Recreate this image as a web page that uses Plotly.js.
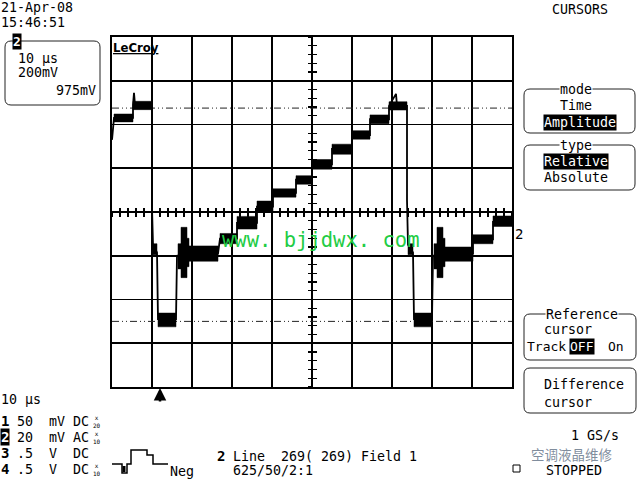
<!DOCTYPE html>
<html><head><meta charset="utf-8">
<script src="https://cdn.plot.ly/plotly-3.0.1.min.js"></script>
<style>html,body{margin:0;padding:0;background:#fff}#chart{width:640px;height:480px}</style>
</head><body><div id="chart"></div>
<script>
// ---------- data (time in µs, 10 µs/div; level in mV, 200 mV/div) ----------
const timeRangeUs = [0, 100];
const levelRangeMv = [-800, 800];
const cursorLevelsMv = [475, -500];

// centre path of the channel-2 trace (edges and plateau centres)
const traceTimeUs = [0, 0.5, 5.25, 5.25, 5.5, 5.75, 10, 10, 10.25, 11.25, 11.5, 16, 16.25, 19.25, 26.5, 27, 31.25, 31.25, 36.25, 36.25, 40.25, 40.25, 46, 46, 50, 50, 55, 55, 60, 60, 64.5, 64.5, 69.25, 69.25, 71, 71.25, 73.75, 73.75, 74, 75.25, 75.5, 80, 80.25, 83.25, 90.25, 90.25, 95.25, 95.25, 100];
const traceLevelMv = [330, 430, 430, 490, 545, 490, 490, 20, -150, -185, -490, -490, -200, -190, -190, -122, -122, -50, -50, 25, 25, 88, 88, 148, 148, 218, 218, 288, 288, 352, 352, 424, 424, 485, 540, 485, 485, 55, -150, -185, -490, -490, -200, -190, -190, -125, -125, -45, -30];

// noise envelope of each plateau / burst
const bandStartUs = [0.5, 5.25, 10.25, 11.5, 16.5, 17.25, 18.75, 19.25, 27, 31.25, 36.25, 40.25, 46, 50, 55, 60, 64.5, 69.25, 74, 75.5, 80.5, 81.25, 82.75, 83.25, 90.25, 95.25];
const bandEndUs   = [5.25, 10, 11.25, 16, 17.25, 18.75, 19.25, 26.5, 31.25, 36.25, 40.25, 46, 50, 55, 60, 64.5, 69.25, 73.75, 75.25, 80, 81.25, 82.75, 83.25, 90.25, 95.25, 100];
const bandLowMv   = [412, 468, -195, -525, -260, -300, -250, -225, -145, -78, 0, 68, 127, 196, 264, 333, 404, 466, -195, -525, -260, -300, -250, -225, -145, -66];
const bandHighMv  = [448, 506, -145, -462, -145, -70, -120, -155, -98, -20, 50, 106, 166, 240, 310, 372, 444, 504, -145, -462, -145, -70, -120, -160, -104, -18];

// ---------- build ----------
const bx = [], by = [];
for (let i = 0; i < bandStartUs.length; i++) {
  bx.push(bandStartUs[i], bandEndUs[i], bandEndUs[i], bandStartUs[i], bandStartUs[i], null);
  by.push(bandLowMv[i], bandLowMv[i], bandHighMv[i], bandHighMv[i], bandLowMv[i], null);
}

const traces = [];
cursorLevelsMv.forEach(lv => traces.push({
  type: 'scatter', mode: 'lines', x: timeRangeUs, y: [lv, lv],
  line: {color: '#222', width: 1, dash: '7px,3px,1px,3px,1px,3px'},
  hoverinfo: 'skip', showlegend: false
}));
traces.push({type: 'scatter', mode: 'lines', x: bx, y: by, fill: 'toself', fillcolor: '#000',
  line: {color: '#000', width: 0.5}, hoverinfo: 'skip', showlegend: false});
traces.push({type: 'scatter', mode: 'lines', x: traceTimeUs, y: traceLevelMv,
  line: {color: '#000', width: 1.8}, hoverinfo: 'skip', showlegend: false});
// empty traces that hold the centre-line tick axes
[['x2', 'y'], ['x3', 'y'], ['x', 'y2'], ['x', 'y3']].forEach(([xa, ya]) =>
  traces.push({type: 'scatter', x: [], y: [], xaxis: xa, yaxis: ya, showlegend: false, hoverinfo: 'skip'}));

const L = 112, R = 512, T = 37, B = 387;
const px = v => (v - L) / (R - L);
const py = v => (B - v) / (B - T);
const MONO = 'DejaVu Sans Mono';

function txt(text, x, y, o = {}) {
  const f = Object.assign({family: MONO, size: 13.3, color: '#000'}, o.font || {});
  const a = Object.assign({text, x: px(x), y: py(y), xref: 'paper', yref: 'paper', showarrow: false,
    xanchor: 'left', yanchor: 'middle', borderpad: 0}, o);
  a.font = f;
  return a;
}
function inv(text, x, y, o = {}) {
  const f = Object.assign({color: '#fff'}, o.font || {});
  return txt(text, x, y, Object.assign({bgcolor: '#000'}, o, {font: f}));
}
function rrect(x0, y0, x1, y1, r) {
  const X0 = px(x0), X1 = px(x1), Y0 = py(y0), Y1 = py(y1), rx = r / (R - L), ry = r / (B - T);
  return {type: 'path', xref: 'paper', yref: 'paper', line: {color: '#222', width: 1},
    path: `M${X0 + rx},${Y0} L${X1 - rx},${Y0} Q${X1},${Y0} ${X1},${Y0 - ry} L${X1},${Y1 + ry} Q${X1},${Y1} ${X1 - rx},${Y1} L${X0 + rx},${Y1} Q${X0},${Y1} ${X0},${Y1 + ry} L${X0},${Y0 - ry} Q${X0},${Y0} ${X0 + rx},${Y0} Z`};
}
function poly(pts, w) {
  return {type: 'path', xref: 'paper', yref: 'paper', line: {color: '#000', width: w},
    path: pts.map((p, i) => (i ? 'L' : 'M') + px(p[0]) + ',' + py(p[1])).join(' ')};
}

const gridAx = {showgrid: true, gridcolor: '#000', gridwidth: 1.6, showline: true, mirror: true,
  linecolor: '#000', linewidth: 1.6, zeroline: false, showticklabels: false, ticks: '', fixedrange: true};
const tickAx = {anchor: 'free', position: 0.5, showgrid: false, zeroline: false, showline: false,
  showticklabels: false, ticklen: 4, tickwidth: 1.3, tickcolor: '#000', fixedrange: true};

const annotations = [
  txt('21-Apr-08', 0, 8),
  txt('15:46:51', 0, 23),
  inv('2', 12, 41, {font: {size: 13, weight: 'bold'}}),
  txt('10 μs', 17, 59),
  txt('200mV', 17, 72),
  txt('975mV', 97, 90, {xanchor: 'right'}),
  txt('<b><u>LeCroy</u></b>', 112, 47, {font: {family: 'DejaVu Sans Condensed', size: 13}}),
  txt('CURSORS', 580, 10, {xanchor: 'center'}),
  txt('mode', 576, 89, {xanchor: 'center', bgcolor: '#fff'}),
  txt('Time', 576, 105, {xanchor: 'center'}),
  inv('Amplitude', 580, 122, {xanchor: 'center'}),
  txt('type', 576, 145, {xanchor: 'center', bgcolor: '#fff'}),
  inv('Relative', 576, 161, {xanchor: 'center'}),
  txt('Absolute', 576, 178, {xanchor: 'center'}),
  txt('Reference', 582, 314, {xanchor: 'center', bgcolor: '#fff'}),
  txt('cursor', 543, 329),
  txt('Track', 526, 346, {font: {size: 13}}),
  inv('OFF', 582, 346, {xanchor: 'center', font: {size: 13}}),
  txt('On', 607, 346, {font: {size: 13}}),
  txt('Difference', 543, 384),
  txt('cursor', 543, 402),
  txt('2', 514, 234, {font: {size: 14}}),
  txt('www. bjjdwx. com', 320, 240, {xanchor: 'center', font: {family: MONO, size: 20.5, color: '#22cc44'}}),
  txt('10 μs', 0, 399),
  txt('<b>1</b>', 0, 421, {font: {size: 14}}),
  txt('50  mV DC', 16, 421),
  inv('2', 0, 437, {font: {size: 14, weight: 'bold'}}),
  txt('20  mV AC', 16, 437),
  txt('<b>3</b>', 0, 453, {font: {size: 14}}),
  txt('.5  V  DC', 16, 453),
  txt('<b>4</b>', 0, 469, {font: {size: 14}}),
  txt('.5  V  DC', 16, 469),
  txt('x<br>20', 97, 421, {xanchor: 'center', font: {size: 6}}),
  txt('x<br>10', 97, 437, {xanchor: 'center', font: {size: 6}}),
  txt('x<br>10', 97, 469, {xanchor: 'center', font: {size: 6}}),
  txt('Neg', 169, 471),
  txt('<b>2</b>', 216, 456, {font: {size: 14}}),
  txt('Line  269( 269) Field 1', 232, 456),
  txt('625/50/2:1', 232, 470),
  txt('空调液晶维修', 572, 454, {xanchor: 'center', font: {family: 'Noto Sans CJK SC', size: 13.5, color: 'rgba(105,120,140,0.85)'}}),
  txt('1 GS/s', 570, 435),
  txt('STOPPED', 545, 470),
  {x: px(160), y: py(388), xref: 'paper', yref: 'paper', text: '', showarrow: true, ax: 0, ay: 15,
   arrowhead: 2, arrowsize: 1, arrowwidth: 2.5, arrowcolor: '#000'}
];

const shapes = [
  rrect(5, 41, 100, 105, 6),
  rrect(524, 89, 635, 133, 6),
  rrect(524, 145, 635, 190, 6),
  rrect(524, 314, 636, 360, 6),
  rrect(524, 368, 636, 413, 6),
  poly([[112, 464], [122, 464], [122, 473], [127, 473], [127, 464], [131, 464], [131, 450], [147, 450], [147, 455], [153, 455], [153, 464], [168, 464]], 1.5),
  poly([[124, 466], [124, 472]], 3),
  {type: 'rect', xref: 'paper', yref: 'paper', x0: px(513), x1: px(520), y0: py(472), y1: py(465), line: {color: '#000', width: 1}}
];

const layout = {
  width: 640, height: 480, autosize: false,
  margin: {l: L, r: 640 - R, t: T, b: 480 - B, pad: 0},
  paper_bgcolor: '#fff', plot_bgcolor: '#fff', showlegend: false,
  xaxis: Object.assign({}, gridAx, {range: timeRangeUs, dtick: 10, tick0: 0}),
  yaxis: Object.assign({}, gridAx, {range: levelRangeMv, dtick: 200, tick0: 0}),
  xaxis2: Object.assign({}, tickAx, {overlaying: 'x', range: timeRangeUs, dtick: 2, tick0: 0, ticks: 'outside'}),
  xaxis3: Object.assign({}, tickAx, {overlaying: 'x', range: timeRangeUs, dtick: 2, tick0: 0, ticks: 'inside'}),
  yaxis2: Object.assign({}, tickAx, {overlaying: 'y', range: levelRangeMv, dtick: 40, tick0: 0, ticks: 'outside'}),
  yaxis3: Object.assign({}, tickAx, {overlaying: 'y', range: levelRangeMv, dtick: 40, tick0: 0, ticks: 'inside'}),
  annotations, shapes
};

Plotly.newPlot('chart', traces, layout, {staticPlot: true, displayModeBar: false});
</script></body></html>
